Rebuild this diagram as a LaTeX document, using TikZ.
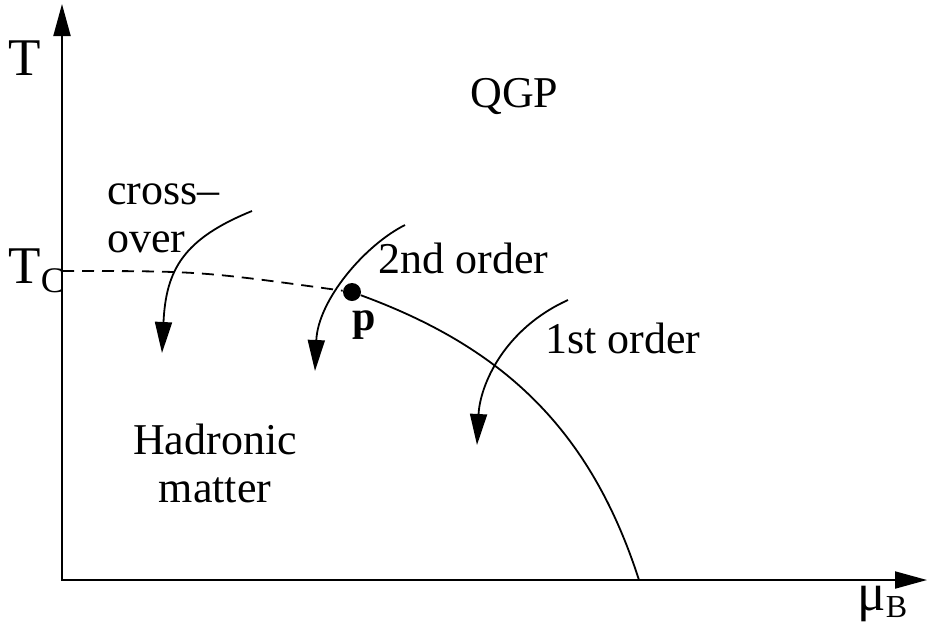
\documentclass[tikz,border=0pt]{standalone}
\usepackage{fontspec}
\setmainfont{Liberation Serif}
\usetikzlibrary{arrows.meta}

\begin{document}
\begin{tikzpicture}[
    x=0.5pt, y=-0.5pt,
    every node/.style={inner sep=0pt, anchor=base west},
    phasetext/.style={font=\fontsize{22}{24}\selectfont},
    axistext/.style={font=\fontsize{26.5}{28}\selectfont},
    axisline/.style={line width=1pt, {Triangle[length=16pt,width=8.5pt]}-{Triangle[length=16pt,width=8.5pt]}},
    flowarrow/.style={line width=0.9pt, -{Triangle[length=15.5pt,width=8.5pt]}},
    boundary/.style={line width=0.9pt}
]
\useasboundingbox (0,0) rectangle (928,629);

% axes
\coordinate (origin) at (62,580);
\coordinate (ytip) at (62,4);
\coordinate (xtip) at (927,580);
\draw[axisline] (ytip) -- (origin) -- (xtip);
\node[axistext] (tlabel) at (8,75) {T};
\node[axistext] (mulabel) at (857,610) {μ\raisebox{-3.5pt}{\fontsize{16}{16}\selectfont B}};
\node[axistext] (tclabel) at (8,283) {T\raisebox{-4.5pt}{\fontsize{18}{18}\selectfont C}};

% phase boundary
\coordinate (tc) at (62,271);
\coordinate (muend) at (639,580);
\node[circle, fill, minimum size=9pt, anchor=center] (cp) at (352,292) {};
\node[font=\fontsize{21}{22}\selectfont\bfseries] (plabel) at (352,330) {p};
\draw[boundary, dash pattern=on 6pt off 4pt] (tc) .. controls (200,271) .. (cp);
\draw[boundary] (cp) .. controls (502,347) and (590,428) .. (muend);

% regions
\node[phasetext] (qgp) at (470,107) {QGP};
\node[phasetext, align=center, anchor=base] (hadron) at (215,502) {Hadronic\\matter};
\node[phasetext, align=left] (crossover) at (107,252) {cross--\\over};
\node[phasetext] (second) at (378,273) {2nd order};
\node[phasetext] (first) at (545,353) {1st order};

% transitions
\coordinate (a1) at (252,211);
\coordinate (b1) at (162,353);
\coordinate (a2) at (405,225);
\coordinate (b2) at (315,371);
\coordinate (a3) at (568,300);
\coordinate (b3) at (477,445);
\draw[flowarrow] (a1) .. controls (183,239) and (166,270) .. (b1);
\draw[flowarrow] (a2) .. controls (365,245) and (318,300) .. (b2);
\draw[flowarrow] (a3) .. controls (504,329) and (480,385) .. (b3);
\end{tikzpicture}
\end{document}
